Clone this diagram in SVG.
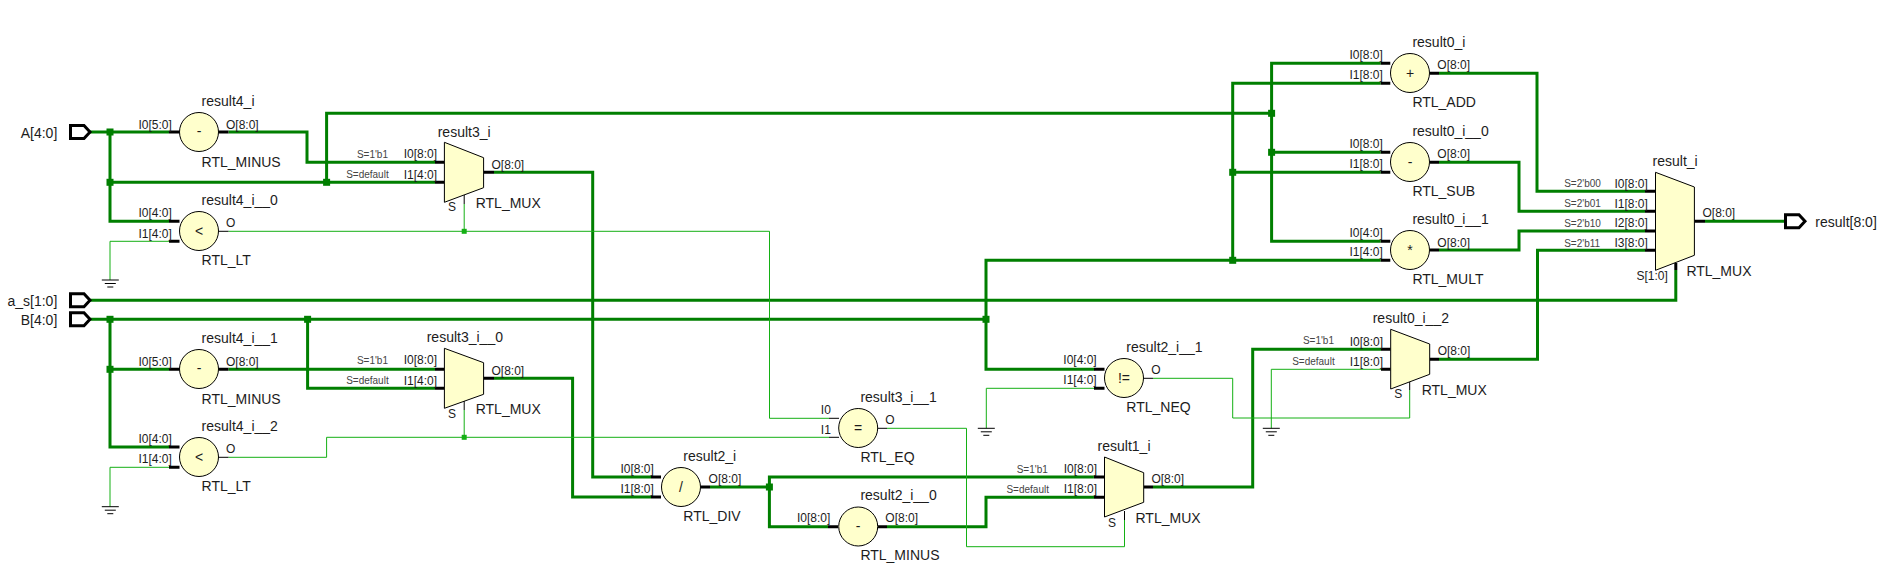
<svg xmlns="http://www.w3.org/2000/svg" width="1883" height="570" viewBox="0 0 1883 570">
<style>
text{font-family:"Liberation Sans",Arial,sans-serif;fill:#1c1c1c}
.n{font-size:14px}
.p{font-size:12px}
.s{font-size:10px;fill:#444}
.e{text-anchor:end}
.op{font-size:14px;text-anchor:middle}
.c{fill:#ffffcc;stroke:#000;stroke-width:1}
.m{fill:#ffffcc;stroke:#000;stroke-width:1}
.b{fill:none;stroke:#007f00;stroke-width:3}
.t{fill:none;stroke:#14b014;stroke-width:1}
.k{fill:none;stroke:#000;stroke-width:3}
.q{fill:none;stroke:#000;stroke-width:1}
.g{fill:none;stroke:#000;stroke-width:1}
.pt{fill:#fff;stroke:#000;stroke-width:3}
.jb{fill:#007f00}
.jt{fill:#14b014}
</style>
<defs>
<rect id="jb" class="jb" x="-3.5" y="-3.5" width="7" height="7"/>
<rect id="jt" class="jt" x="-2.5" y="-2.5" width="5" height="5"/>
<path id="gnd" class="g" d="M-8.5 0H8.5M-5.5 3.5H5.5M-3 7H3"/>
<path id="port" class="pt" d="M-19.5 -6.5H-6L0 0L-6 6.5H-19.5Z"/>
</defs>
<g id="connectors">
<path class="b" d="M90 132H169M110 132V221.3H169M110 182.3H435M326.6 182.3V113.3H1272M228.5 132H307V162.3H435"/>
<path class="b" d="M494 172.3H592.7V477H651"/>
<path class="b" d="M90 300.3H1675.8V270"/>
<path class="b" d="M90 319.3H986M110 319.3V447H169M110 369.3H169M228.5 369.3H435M307.6 319.3V388.3H435"/>
<path class="b" d="M494 378.3H572.6V497H651"/>
<path class="b" d="M710 487H769.4M1093.9 477H769.4V526.7H828M887 526.7H986V497.3H1094"/>
<path class="b" d="M1153 487H1252.7V349.3H1381M1439 359.3H1537.5V250.3H1645"/>
<path class="b" d="M1380.7 63.3H1271.6V241.3H1380.7M1271.6 152.3H1380.7M1380.7 83.3H1232.7V260.3M1232.7 172.3H1380.7M1380.7 260.3H986V369.3H1094.3"/>
<path class="b" d="M1439 73.3H1537V191.3H1645M1439 162.3H1519V211.3H1645M1439 250H1519V231H1645M1705 221.3H1784"/>
<path class="t" d="M169 241.3H110V280M228.5 231.3H769.5V418.3H829M464.2 204V231.3"/>
<path class="t" d="M169 467.3H110V506.7M228.5 457.3H326.6V437.3H829M464.2 410V437.3"/>
<path class="t" d="M887 428.3H966.5V546.7H1124.5V520"/>
<path class="t" d="M1094 388.3H986.3V428.3M1153 378.3H1232.7V418H1409.7V390M1381 369.3H1271.3V428.3"/>
<use href="#jb" x="110" y="132"/><use href="#jb" x="110" y="182.3"/><use href="#jb" x="326.6" y="182.3"/>
<use href="#jb" x="110" y="319.3"/><use href="#jb" x="307.6" y="319.3"/><use href="#jb" x="110" y="369.3"/>
<use href="#jb" x="769.4" y="487"/><use href="#jb" x="986" y="319.3"/><use href="#jb" x="1232.7" y="260.3"/>
<use href="#jb" x="1232.7" y="172.3"/><use href="#jb" x="1271.6" y="113.3"/><use href="#jb" x="1271.6" y="152.3"/>
<use href="#jt" x="464.2" y="231.3"/><use href="#jt" x="464.2" y="437.3"/>
</g>
<g id="gnd_1"><use href="#gnd" x="110.3" y="280"/></g>
<g id="gnd_2"><use href="#gnd" x="110.3" y="506.7"/></g>
<g id="gnd_3"><use href="#gnd" x="986.3" y="428.3"/></g>
<g id="gnd_4"><use href="#gnd" x="1271.3" y="428.3"/></g>
<g id="port_A"><use href="#port" x="90" y="132"/><text class="n e" x="57.3" y="137.5">A[4:0]</text></g>
<g id="port_a_s"><use href="#port" x="90" y="300.3"/><text class="n e" x="57.3" y="305.5">a_s[1:0]</text></g>
<g id="port_B"><use href="#port" x="90" y="319.3"/><text class="n e" x="57.3" y="324.5">B[4:0]</text></g>
<g id="port_result"><use href="#port" x="1805" y="221.3"/><text class="n" x="1815.3" y="226.5">result[8:0]</text></g>

<g id="result4_i">
<path class="k" d="M169 132H179.5M218.7 132H228.5"/>
<circle class="c" cx="199" cy="132" r="19.5"/><text class="op" x="199" y="136">-</text>
<text class="n" x="201.6" y="106">result4_i</text><text class="n" x="201.6" y="166.7">RTL_MINUS</text>
<text class="p" x="138.4" y="128.7">I0[5:0]</text><text class="p" x="226" y="128.7">O[8:0]</text>
</g>
<g id="result4_i__0">
<path class="k" d="M169 221.3H179.5M169 241.3H179.5"/><path class="q" d="M218.5 231.3H228.5"/>
<circle class="c" cx="199" cy="231" r="19.5"/><text class="op" x="199" y="236">&lt;</text>
<text class="n" x="201.6" y="205">result4_i__0</text><text class="n" x="201.6" y="265">RTL_LT</text>
<text class="p" x="138.4" y="217.3">I0[4:0]</text><text class="p" x="138.4" y="238">I1[4:0]</text><text class="p" x="226" y="226.7">O</text>
</g>
<g id="result4_i__1">
<path class="k" d="M169 369.3H179.5M218.7 369.3H228.5"/>
<circle class="c" cx="199" cy="369" r="19.5"/><text class="op" x="199" y="373">-</text>
<text class="n" x="201.6" y="343.3">result4_i__1</text><text class="n" x="201.6" y="403.7">RTL_MINUS</text>
<text class="p" x="138.4" y="365.7">I0[5:0]</text><text class="p" x="226" y="365.7">O[8:0]</text>
</g>
<g id="result4_i__2">
<path class="k" d="M169 447H179.5M169 467.3H179.5"/><path class="q" d="M218.5 457.3H228.5"/>
<circle class="c" cx="199" cy="457" r="19.5"/><text class="op" x="199" y="462">&lt;</text>
<text class="n" x="201.6" y="430.7">result4_i__2</text><text class="n" x="201.6" y="490.7">RTL_LT</text>
<text class="p" x="138.4" y="443.3">I0[4:0]</text><text class="p" x="138.4" y="463.3">I1[4:0]</text><text class="p" x="226" y="452.7">O</text>
</g>
<g id="result3_i">
<path class="k" d="M435 162.3H444.4M435 182.3H444.4M483.6 172.3H494"/><path class="q" d="M464.2 195V204"/>
<path class="m" d="M444.4 142.3L483.6 157.7V187.7L444.4 202.3Z"/>
<text class="n" x="437.7" y="136.7">result3_i</text><text class="n" x="475.7" y="208">RTL_MUX</text>
<text class="s e" x="388" y="158">S=1'b1</text><text class="s e" x="388.7" y="178.3">S=default</text>
<text class="p" x="403.7" y="158">I0[8:0]</text><text class="p" x="403.7" y="178.7">I1[4:0]</text>
<text class="p" x="491.5" y="168.7">O[8:0]</text><text class="p" x="448" y="211.3">S</text>
</g>
<g id="result3_i__0">
<path class="k" d="M435 369.3H444.4M435 388.3H444.4M483.6 378.3H494"/><path class="q" d="M464.2 401V410"/>
<path class="m" d="M444.4 348.3L483.6 362.7V394.3L444.4 408.3Z"/>
<text class="n" x="426.7" y="342.3">result3_i__0</text><text class="n" x="475.7" y="414">RTL_MUX</text>
<text class="s e" x="388" y="364">S=1'b1</text><text class="s e" x="388.7" y="384">S=default</text>
<text class="p" x="403.7" y="364">I0[8:0]</text><text class="p" x="403.7" y="384.7">I1[4:0]</text>
<text class="p" x="491.5" y="375">O[8:0]</text><text class="p" x="448" y="418">S</text>
</g>
<g id="result3_i__1">
<path class="q" d="M829 418.3H839M829 437.3H839M878 428.3H887"/>
<circle class="c" cx="858.2" cy="428" r="19.5"/><text class="op" x="858.2" y="433">=</text>
<text class="n" x="860.4" y="401.7">result3_i__1</text><text class="n" x="860.4" y="462.3">RTL_EQ</text>
<text class="p" x="820.8" y="414.3">I0</text><text class="p" x="820.8" y="434">I1</text><text class="p" x="885.3" y="423.7">O</text>
</g>
<g id="result2_i">
<path class="k" d="M651 477H661M651 497H661M700.8 487H710"/>
<circle class="c" cx="681" cy="487" r="19.5"/><text class="op" x="681" y="492">/</text>
<text class="n" x="683.3" y="461">result2_i</text><text class="n" x="683.3" y="521">RTL_DIV</text>
<text class="p" x="620.4" y="473.3">I0[8:0]</text><text class="p" x="620.4" y="493.3">I1[8:0]</text><text class="p" x="708.6" y="482.7">O[8:0]</text>
</g>
<g id="result2_i__0">
<path class="k" d="M828 526.7H838M878 526.7H887"/>
<circle class="c" cx="858.2" cy="526.5" r="19.5"/><text class="op" x="858.2" y="531">-</text>
<text class="n" x="860.4" y="500">result2_i__0</text><text class="n" x="860.4" y="560">RTL_MINUS</text>
<text class="p" x="797" y="521.7">I0[8:0]</text><text class="p" x="885.3" y="521.7">O[8:0]</text>
</g>
<g id="result2_i__1">
<path class="k" d="M1094 369.3H1104.5M1094 388.3H1104.5"/><path class="q" d="M1143.5 378.3H1153"/>
<circle class="c" cx="1124" cy="378" r="19.5"/><text class="op" x="1124" y="383">!=</text>
<text class="n" x="1126.3" y="351.7">result2_i__1</text><text class="n" x="1126.3" y="412.3">RTL_NEQ</text>
<text class="p" x="1063.3" y="364.3">I0[4:0]</text><text class="p" x="1063.3" y="384">I1[4:0]</text><text class="p" x="1151.3" y="373.7">O</text>
</g>
<g id="result1_i">
<path class="k" d="M1094 477H1104.5M1094 497.3H1104.5M1143.7 487H1153"/><path class="q" d="M1124.5 511V520"/>
<path class="m" d="M1104.5 457L1143.7 472.7V502.3L1104.5 517Z"/>
<text class="n" x="1097.6" y="450.7">result1_i</text><text class="n" x="1135.5" y="523">RTL_MUX</text>
<text class="s e" x="1047.8" y="472.7">S=1'b1</text><text class="s e" x="1049" y="492.7">S=default</text>
<text class="p" x="1063.7" y="473.3">I0[8:0]</text><text class="p" x="1063.7" y="493.3">I1[8:0]</text>
<text class="p" x="1151.4" y="482.7">O[8:0]</text><text class="p" x="1108" y="526.7">S</text>
</g>
<g id="result0_i__2">
<path class="k" d="M1381 349.3H1390.7M1381 369.3H1390.7M1429.7 359.3H1439"/><path class="q" d="M1409.7 381.5V390"/>
<path class="m" d="M1390.7 329.3L1429.7 344V374.3L1390.7 389Z"/>
<text class="n" x="1372.7" y="323">result0_i__2</text><text class="n" x="1421.7" y="395">RTL_MUX</text>
<text class="s e" x="1334" y="344.3">S=1'b1</text><text class="s e" x="1334.7" y="364.7">S=default</text>
<text class="p" x="1349.7" y="345.7">I0[8:0]</text><text class="p" x="1349.7" y="366">I1[8:0]</text>
<text class="p" x="1437.7" y="355.3">O[8:0]</text><text class="p" x="1394.3" y="398.3">S</text>
</g>
<g id="result0_i">
<path class="k" d="M1380.7 63.3H1390.3M1380.7 83.3H1390.3M1430 73.3H1439"/>
<circle class="c" cx="1410" cy="73" r="19.5"/><text class="op" x="1410" y="78">+</text>
<text class="n" x="1412.4" y="47.3">result0_i</text><text class="n" x="1412.4" y="107.3">RTL_ADD</text>
<text class="p" x="1349.4" y="59.3">I0[8:0]</text><text class="p" x="1349.4" y="79.3">I1[8:0]</text><text class="p" x="1437.3" y="69.3">O[8:0]</text>
</g>
<g id="result0_i__0">
<path class="k" d="M1380.7 152.3H1390.3M1380.7 172.3H1390.3M1430 162.3H1439"/>
<circle class="c" cx="1410" cy="162" r="19.5"/><text class="op" x="1410" y="167">-</text>
<text class="n" x="1412.4" y="136">result0_i__0</text><text class="n" x="1412.4" y="196">RTL_SUB</text>
<text class="p" x="1349.4" y="148.3">I0[8:0]</text><text class="p" x="1349.4" y="168.3">I1[8:0]</text><text class="p" x="1437.3" y="158.3">O[8:0]</text>
</g>
<g id="result0_i__1">
<path class="k" d="M1380.7 241.3H1390.3M1380.7 260.3H1390.3M1430 250H1439"/>
<circle class="c" cx="1410" cy="250" r="19.5"/><text class="op" x="1410" y="255">*</text>
<text class="n" x="1412.4" y="224">result0_i__1</text><text class="n" x="1412.4" y="284">RTL_MULT</text>
<text class="p" x="1349.4" y="236.7">I0[4:0]</text><text class="p" x="1349.4" y="256.3">I1[4:0]</text><text class="p" x="1437.3" y="246.7">O[8:0]</text>
</g>
<g id="result_i">
<path class="k" d="M1645 191.3H1655.5M1645 211.3H1655.5M1645 231H1655.5M1645 250.3H1655.5M1694.4 221.3H1705M1675.8 263V270"/>
<path class="m" d="M1655.5 172.3L1694.4 187V255.3L1655.5 270.3Z"/>
<text class="n" x="1652.6" y="166">result_i</text><text class="n" x="1686.4" y="276">RTL_MUX</text>
<text class="s" x="1564.2" y="186.7">S=2'b00</text><text class="s" x="1564.2" y="206.7">S=2'b01</text><text class="s" x="1564.2" y="226.7">S=2'b10</text><text class="s" x="1564.2" y="246.7">S=2'b11</text>
<text class="p" x="1614.5" y="187.7">I0[8:0]</text><text class="p" x="1614.5" y="207.7">I1[8:0]</text><text class="p" x="1614.5" y="227.3">I2[8:0]</text><text class="p" x="1614.5" y="247.3">I3[8:0]</text>
<text class="p" x="1702.5" y="217.3">O[8:0]</text><text class="p" x="1636.5" y="280">S[1:0]</text>
</g>
</svg>
